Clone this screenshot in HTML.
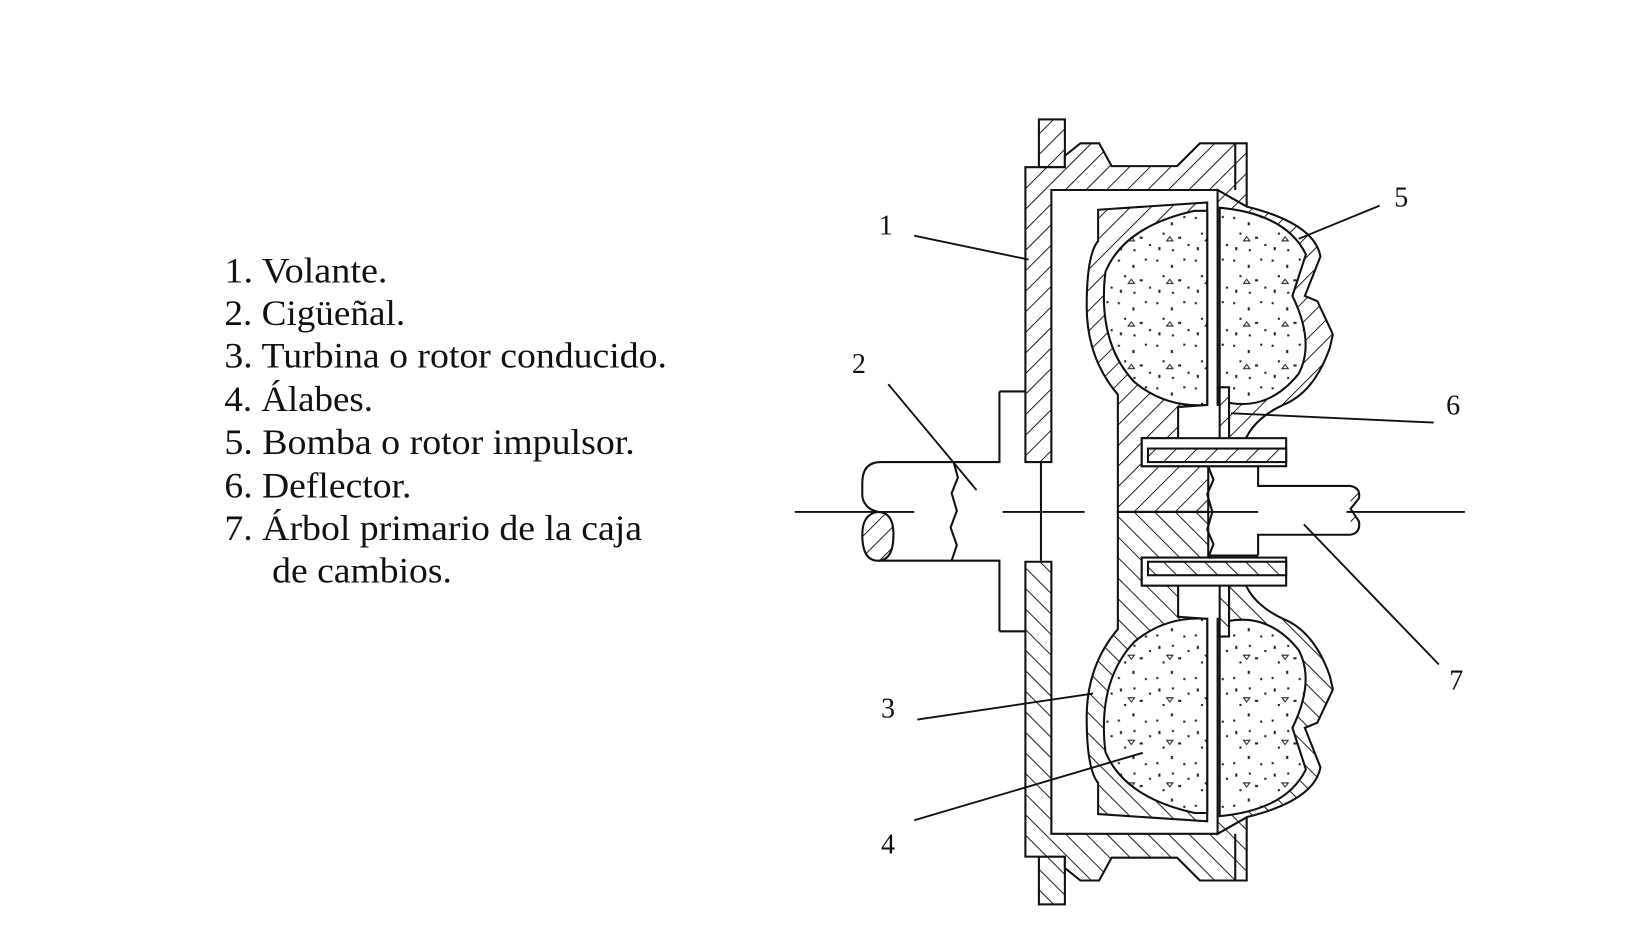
<!DOCTYPE html>
<html><head><meta charset="utf-8"><style>
html,body{margin:0;padding:0;background:#fff;}
svg{display:block;}
</style></head><body>
<svg width="1629" height="948" viewBox="0 0 1568 913" preserveAspectRatio="none" xmlns="http://www.w3.org/2000/svg">
<defs>
<pattern id="h" patternUnits="userSpaceOnUse" width="14" height="14" patternTransform="rotate(45)">
<rect width="14" height="14" fill="#fff"/><line x1="0" y1="0" x2="0" y2="14" stroke="#111" stroke-width="1.8"/>
</pattern>
<pattern id="s" patternUnits="userSpaceOnUse" width="37" height="41">
<rect width="37" height="41" fill="#fff"/>
<rect x="3" y="4" width="2" height="2" fill="#222"/><rect x="17" y="9" width="2" height="3" fill="#222"/>
<rect x="29" y="3" width="2" height="2" fill="#222"/><rect x="9" y="19" width="2" height="2" fill="#222"/>
<rect x="24" y="23" width="3" height="2" fill="#222"/><rect x="33" y="30" width="2" height="2" fill="#222"/>
<rect x="5" y="33" width="2" height="3" fill="#222"/><rect x="18" y="35" width="2" height="2" fill="#222"/>
<path d="M13 27 l3 -4 l3 4 z" fill="none" stroke="#222" stroke-width="1"/>
</pattern>
</defs>
<rect width="1568" height="913" fill="#fff"/>

<g font-family="'Liberation Serif',serif" font-size="35" fill="#111" lengthAdjust="spacingAndGlyphs">
<text x="216" y="272" textLength="157" lengthAdjust="spacingAndGlyphs">1. Volante.</text>
<text x="216" y="313" textLength="174" lengthAdjust="spacingAndGlyphs">2. Cigüeñal.</text>
<text x="216" y="354" textLength="426" lengthAdjust="spacingAndGlyphs">3. Turbina o rotor conducido.</text>
<text x="216" y="396" textLength="143" lengthAdjust="spacingAndGlyphs">4. Álabes.</text>
<text x="216" y="437" textLength="395" lengthAdjust="spacingAndGlyphs">5. Bomba o rotor impulsor.</text>
<text x="216" y="479" textLength="180" lengthAdjust="spacingAndGlyphs">6. Deflector.</text>
<text x="216" y="520" textLength="402" lengthAdjust="spacingAndGlyphs">7. Árbol primario de la caja</text>
<text x="262" y="561" textLength="173" lengthAdjust="spacingAndGlyphs">de cambios.</text>
</g>
<g font-family="'Liberation Serif',serif" font-size="27" fill="#111">
<text x="846" y="226">1</text><text x="820" y="359">2</text><text x="848" y="691">3</text>
<text x="848" y="822">4</text><text x="1342" y="199">5</text><text x="1392" y="399">6</text><text x="1395" y="664">7</text>
</g>

<g stroke="#111" stroke-width="2" fill="none">
<path d="M962,377 L987,377 M962,377 L962,445 L848,445 Q830,445 830,465 L830,478 Q832,490 845,493 M962,608 L987,608 M962,608 L962,540 L845,540"/>
<path d="M845,493 Q830,495 830,515 Q830,540 845,540 Q860,540 860,515 Q860,493 845,493 Z" fill="url(#h)"/>
<path d="M918,445 L922,460 L916,475 L921,492 L915,508 L921,525 L916,540"/>
<line x1="1002" y1="445" x2="1002" y2="540"/>
<path d="M1163,449 L1211,449 L1211,468 L1300,468 M1211,535 L1211,515 L1300,515 M1163,535 L1211,535"/>
<path d="M1300,468 Q1310,470 1308,480 L1300,490 L1308,502 Q1310,513 1300,515" fill="url(#h)"/>
</g>

<g id="up" stroke="#111" stroke-width="2">
<rect x="1000" y="115" width="25" height="46" fill="url(#h)"/>
<path d="M987,161 L1025,161 L1025,150 L1040,138 L1058,138 L1070,160 L1133,160 L1155,138 L1200,138 L1200,199 L1172,183 L1012,183 L1012,445 L987,445 Z" fill="url(#h)"/>
<line x1="1189" y1="138" x2="1189" y2="183"/>
<path d="M1172,183 L1200,199 Q1265,215 1271,247 L1256,285 L1268,290 L1283,322 L1280,335 Q1265,378 1235,390 Q1203,405 1196,431 L1183,431 L1183,390 L1172,390 Z" fill="url(#h)"/>
<path d="M1174,200 Q1238,206 1257,245 L1244,285 Q1266,330 1250,360 Q1222,395 1183,388 L1174,388 Z" fill="url(#s)"/>
<rect x="1174" y="373" width="9" height="58" fill="url(#h)"/>
<path d="M1057,202 L1162,195 L1162,390 L1134,392 L1134,422 L1099,422 L1099,449 L1163,449 L1163,493 L1076,493 L1076,380 Q1046,345 1046,295 Q1046,245 1057,232 Z" fill="url(#h)"/>
<path d="M1150,203 Q1082,218 1064,262 Q1056,330 1092,368 Q1122,393 1162,390 L1162,203 Z" fill="url(#s)"/>
<path d="M1163,449 L1168,462 L1162,476 L1167,493" fill="none"/>
<rect x="1099" y="422" width="139" height="27" fill="#fff"/>
<rect x="1105" y="432" width="133" height="13" fill="url(#h)"/>
</g>
<use href="#up" transform="translate(0,986) scale(1,-1)"/>

<g stroke="#111" stroke-width="1.8" fill="none">
<line x1="765" y1="493" x2="880" y2="493"/>
<line x1="965" y1="493" x2="1044" y2="493"/>
<line x1="1136" y1="493" x2="1211" y2="493"/>
<line x1="1296" y1="493" x2="1410" y2="493"/>
<line x1="880" y1="227" x2="990" y2="250"/>
<line x1="855" y1="370" x2="940" y2="472"/>
<line x1="883" y1="693" x2="1052" y2="668"/>
<line x1="880" y1="790" x2="1100" y2="725"/>
<line x1="1328" y1="198" x2="1250" y2="230"/>
<line x1="1380" y1="407" x2="1185" y2="398"/>
<line x1="1385" y1="640" x2="1255" y2="505"/>
</g>
</svg>
</body></html>
